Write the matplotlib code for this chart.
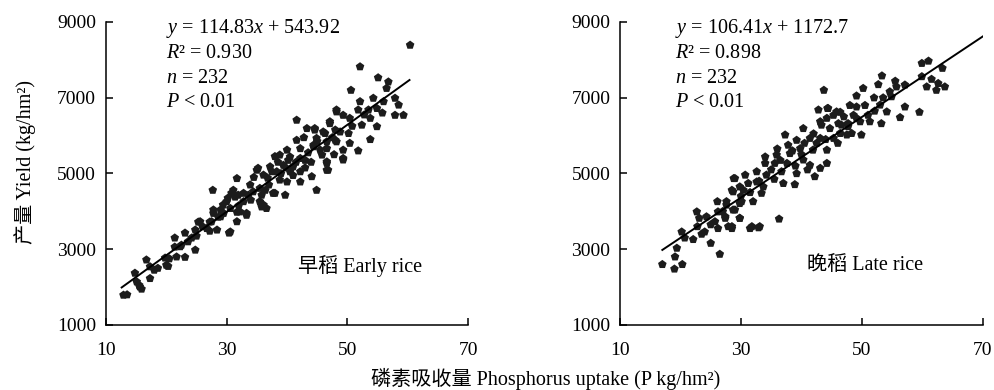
import numpy as np
import matplotlib
matplotlib.use("Agg")
import matplotlib.pyplot as plt

plt.rcParams['font.family'] = ['Liberation Serif', 'Noto Sans CJK SC']
plt.rcParams['mathtext.fontset'] = 'custom'
plt.rcParams['mathtext.rm'] = 'Liberation Serif'
plt.rcParams['mathtext.it'] = 'Liberation Serif:italic'

# early rice: P uptake (kg/hm2) and yield (kg/hm2)
x_early = [12.9, 13.5, 15.6, 15.9, 15.1, 14.8, 17.3, 16.7, 17.3, 18.6, 20.0, 20.3, 19.8, 21.7, 23.1,
           24.8, 21.4, 22.3, 22.5, 21.4, 23.1, 23.6, 24.2, 24.8, 25.3, 25.6, 27.2, 27.2, 27.8, 27.8,
           28.6, 30.4, 30.6, 27.7, 29.4, 30.2, 31.7, 31.4, 30.8, 31.7, 32.8, 33.3, 33.3, 35.0, 35.5,
           35.8, 37.7, 39.7, 44.1, 44.9, 46.6, 49.3, 41.6, 43.3, 44.6, 46.0, 47.1, 48.2, 48.0, 46.6,
           48.2, 41.6, 42.2, 44.4, 45.5, 46.6, 46.8, 40.0, 38.8, 40.5, 42.2, 43.0, 39.4, 41.0, 37.2,
           38.3, 40.5, 42.2, 35.2, 36.1, 38.8, 40.0, 42.2, 38.0, 36.4, 35.8, 35.5, 36.1, 36.6, 33.9,
           33.6, 34.4, 31.9, 31.1, 32.8, 30.0, 30.6, 29.0, 32.2, 31.7, 29.0, 27.5, 28.4, 26.7, 60.4,
           52.1, 55.1, 56.8, 56.5, 50.6, 57.9, 58.5, 57.9, 59.3, 52.1, 54.3, 56.0, 51.8, 53.5, 54.9,
           48.2, 49.3, 50.4, 53.8, 47.1, 52.4, 54.9, 44.6, 46.3, 48.8, 50.2, 53.8, 44.9, 48.0, 50.4,
           49.3, 51.8, 44.4, 46.6, 45.8, 49.3, 46.6, 34.5, 37.0, 38.5, 39.0, 41.5, 43.5, 41.0, 43.0,
           44.0, 45.0, 47.5, 36.8, 34.0, 32.0, 29.5, 26.0, 25.0, 20.5, 18.0, 38.0, 40.2, 42.8, 47.8,
           50.8, 52.8, 55.8, 37.5, 39.8, 15.5]
y_early = [1790, 1800, 2010, 1950, 2140, 2370, 2230, 2720, 2540, 2500, 2580, 2550, 2770, 2800, 2790,
           2980, 3060, 3070, 3110, 3300, 3430, 3200, 3300, 3510, 3720, 3730, 3480, 3720, 3950, 4040,
           3850, 3430, 3460, 4560, 4170, 4350, 3980, 4380, 4480, 4870, 4480, 3950, 3900, 5090, 4610,
           4120, 4480, 4430, 4920, 4560, 5090, 5360, 6410, 6190, 6190, 6100, 6370, 6630, 6150, 5840,
           5840, 5880, 5660, 5750, 5620, 5310, 5090, 5620, 5490, 5440, 5400, 5350, 5220, 5180, 5180,
           5050, 5050, 5050, 5140, 4960, 4830, 4780, 4780, 4480, 4560, 4430, 4260, 4170, 4080, 4700,
           4430, 4520, 4430, 4560, 4260, 4260, 4080, 4040, 3990, 3730, 3860, 3730, 3510, 3550, 8390,
           7820, 7530, 7420, 7250, 7200, 6990, 6810, 6540, 6540, 6900, 6990, 6900, 6680, 6680, 6720,
           6680, 6540, 6460, 6460, 6320, 6280, 6240, 6150, 6060, 6100, 6060, 5900, 5930, 5880, 5800,
           5620, 5600, 5710, 5660, 5490, 5400, 5270, 4900, 4700, 5300, 5000, 5300, 5550, 4950, 5150,
           5300, 5850, 5950, 4880, 4300, 4150, 3950, 3600, 3350, 2750, 2450, 5450, 5350, 5950, 5500,
           6250, 6550, 6600, 5050, 5150, 2050]

# late rice
x_late = [17.0, 19.0, 20.3, 19.1, 19.4, 26.5, 25.0, 20.2, 20.7, 22.1, 24.0, 22.8, 22.7, 23.1, 24.3,
          25.7, 26.1, 26.2, 26.2, 27.4, 27.9, 28.5, 29.8, 28.7, 27.6, 29.8, 31.5, 32.9, 32.0, 28.5,
          30.4, 33.4, 42.8, 44.3, 45.8, 40.3, 37.3, 43.1, 46.1, 47.7, 49.1, 41.4, 43.1, 45.3, 47.5,
          39.2, 37.8, 39.8, 41.9, 44.2, 38.1, 35.9, 34.0, 35.6, 37.6, 40.3, 41.4, 43.1, 34.0, 32.6,
          30.7, 29.0, 34.2, 36.7, 39.2, 37.0, 38.9, 32.6, 31.2, 29.8, 33.7, 28.7, 30.1, 27.6, 29.0,
          27.4, 29.8, 36.3, 31.8, 33.1, 28.5, 59.9, 61.0, 63.3, 59.9, 61.5, 62.6, 63.7, 60.7, 62.3,
          59.5, 56.3, 57.1, 53.3, 52.7, 55.5, 55.7, 57.1, 54.6, 54.9, 53.5, 50.2, 49.1, 43.7, 53.0,
          54.1, 52.1, 49.1, 48.6, 51.0, 51.3, 53.2, 49.7, 46.4, 45.3, 44.4, 44.2, 46.6, 47.7, 48.3,
          49.9, 46.4, 44.7, 43.3, 35.0, 36.0, 38.5, 40.0, 42.5, 44.0, 46.0, 47.0, 48.0, 50.5, 52.0,
          31.5, 33.0, 35.5, 30.0, 27.0, 25.0, 23.5, 36.5, 39.0, 40.5, 42.0, 42.2, 44.2, 41.0, 28.8]
y_late = [2600, 2480, 2600, 2800, 3030, 2870, 3160, 3460, 3300, 3260, 3460, 3600, 3990, 3820, 3860,
          3730, 4260, 3990, 3550, 3820, 3600, 3550, 3820, 4040, 4170, 4210, 3550, 3570, 4260, 4560,
          4560, 4480, 6680, 6720, 6630, 6190, 6020, 6370, 6320, 6240, 6460, 5930, 5930, 5930, 6020,
          5880, 5750, 5660, 5620, 5620, 5530, 5490, 5440, 5270, 5270, 5360, 5220, 5140, 5270, 5050,
          4960, 4870, 4960, 5050, 5000, 4740, 4710, 4780, 4740, 4650, 4650, 4520, 4260, 4260, 4040,
          3860, 3820, 3800, 3600, 3600, 3600, 7910, 7970, 7780, 7560, 7490, 7380, 7290, 7290, 7200,
          6620, 6480, 6760, 7580, 7350, 7440, 7290, 7340, 7160, 7030, 7000, 7250, 7050, 7200, 6810,
          6630, 6650, 6760, 6540, 6540, 6370, 6320, 6370, 6620, 6540, 6720, 6460, 6280, 6320, 6060,
          6020, 6060, 6190, 6280, 5100, 5650, 5600, 5500, 5800, 5900, 5800, 6500, 6800, 6800, 7000,
          4500, 4800, 4850, 4400, 4000, 3650, 3400, 5350, 5200, 5800, 6050, 4920, 5270, 5100, 4870]

# fitted lines as printed on the chart
fit_early = (114.83, 543.92)
fit_late = (106.41, 1172.7)
line_x_early = [12.6, 60.3]
line_x_late = [17.0, 70.0]

stats_early = ["$y$ = 114.83$x$ + 543.92", "$R$² = 0.930", "$n$ = 232", "$P$ < 0.01"]
stats_late = ["$y$ = 106.41$x$ + 1172.7", "$R$² = 0.898", "$n$ = 232", "$P$ < 0.01"]

xticks = [10, 30, 50, 70]
yticks = [1000, 3000, 5000, 7000, 9000]

fig = plt.figure(figsize=(9.95, 3.9), dpi=100)
ax1 = fig.add_axes([0.1065, 0.1667, 0.3639, 0.7769])
ax2 = fig.add_axes([0.6231, 0.1667, 0.3648, 0.7769])

panels = [
    (ax1, x_early, y_early, fit_early, line_x_early, stats_early, "早稻 Early rice", 0.166, 0.530),
    (ax2, x_late, y_late, fit_late, line_x_late, stats_late, "晚稻 Late rice", 0.152, 0.515),
]

for ax, xs, ys, fit, lx, stats, name, tx, nx in panels:
    ax.scatter(xs, ys, s=42, marker='p', color='#1c1c1c', edgecolors='none', zorder=2)
    lx = np.array(lx)
    ax.plot(lx, fit[0] * lx + fit[1], color='black', lw=1.4, zorder=3)
    ax.set_xlim(10, 70)
    ax.set_ylim(1000, 9000)
    ax.set_xticks(xticks)
    ax.set_yticks(yticks)
    ax.spines['top'].set_visible(False)
    ax.spines['right'].set_visible(False)
    for sp in ['left', 'bottom']:
        ax.spines[sp].set_linewidth(1.1)
    ax.tick_params(direction='in', length=5, width=1.1, labelsize=14)
    ax.tick_params(axis='x', pad=12)
    ax.tick_params(axis='y', pad=7)
    for s in ax.spines.values():
        s.set_clip_on(False)
    for i, t in enumerate(stats):
        ax.text(tx, 0.977 - i * 0.081, t, transform=ax.transAxes, fontsize=14.5,
                va='center', ha='left')
    ax.text(nx, 0.195, name, transform=ax.transAxes, fontsize=14.5, va='center', ha='left')

fig.text(0.025, 0.585, "产量 Yield (kg/hm²)", rotation=90, fontsize=14.5, va='center', ha='center')
fig.text(0.548, 0.028, "磷素吸收量 Phosphorus uptake (P kg/hm²)", fontsize=14.5, va='center', ha='center')

fig.savefig("out.png", dpi=100)
